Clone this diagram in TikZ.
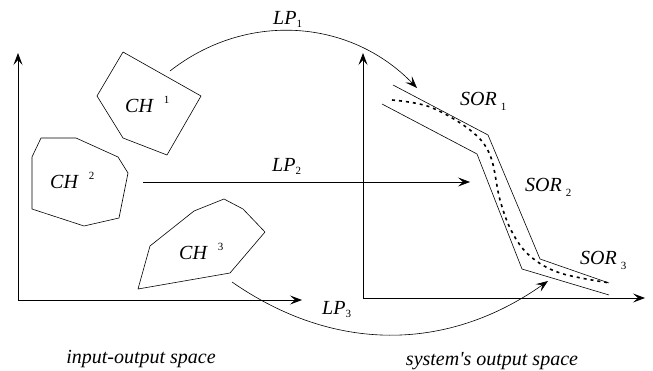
\documentclass[tikz,border=0pt]{standalone}
\usepackage{fontspec}
\setmainfont{Liberation Serif}
\usetikzlibrary{arrows.meta}

\newcommand\hullsup[1]{\hspace{11pt}\raisebox{9pt}{\fontsize{11}{11}\selectfont\upshape #1}}
\newcommand\lpsub[1]{\raisebox{-3pt}{\fontsize{11}{11}\selectfont\upshape #1}}
\newcommand\sorsub[1]{\hspace{4pt}\raisebox{-5pt}{\fontsize{11}{11}\selectfont\upshape #1}}

\begin{document}
\begin{tikzpicture}[
    x=1pt,
    y=-1pt,
    >={Stealth[length=12pt,width=9pt,inset=5pt]},
    axis/.style={
      <->,
      line width=0.9pt,
    },
    hull/.style={
      line width=0.6pt,
      line join=round,
    },
    link/.style={
      ->,
      line width=0.6pt,
    },
    band/.style={
      line width=0.6pt,
    },
    dotband/.style={
      line width=1.6pt,
      dash pattern=on 3pt off 4pt,
    },
    lbl/.style={
      font=\itshape\fontsize{20}{24}\selectfont,
      inner sep=0pt,
      anchor=base west,
    },
  ]

  \useasboundingbox (0,0) rectangle (653,371);

  % Axes
  \coordinate (ytop1) at (18,53);
  \coordinate (xend1) at (302,300);
  \coordinate (ytop2) at (363,53);
  \coordinate (xend2) at (645,298);
  \draw[axis] (ytop1) |- (xend1);
  \draw[axis] (ytop2) |- (xend2);

  % Convex hulls
  \draw[hull] (123,52) -- (201,96) -- (167,155) -- (123,138) -- (97,96) -- cycle;
  \draw[hull] (41,138) -- (76,138) -- (118,157) -- (128,173) -- (119,218)
    -- (84,226) -- (32,209) -- (32,157) -- cycle;
  \draw[hull] (224,199) -- (243,209) -- (265,232) -- (230,273) -- (138,289)
    -- (150,246) -- (194,211) -- cycle;

  \node[lbl] (ch1) at (125,113) {CH\hullsup{1}};
  \node[lbl] (ch2) at (50,189) {CH\hullsup{2}};
  \node[lbl] (ch3) at (179,260) {CH\hullsup{3}};

  % Output regions
  \draw[band] (393,85) -- (488,135) -- (540,259) -- (609,283);
  \draw[band] (382,104) -- (477,154) -- (522,269) -- (609,295);
  \draw[dotband] plot[smooth, tension=0.6] coordinates {(392,100) (430,107)
    (470,130) (490,155) (500,200) (512,232) (530,256) (560,273) (610,283)};

  \node[lbl] (sor1) at (460,106) {SOR\sorsub{1}};
  \node[lbl] (sor2) at (525,192) {SOR\sorsub{2}};
  \node[lbl] (sor3) at (580,265) {SOR\sorsub{3}};

  % Mappings
  \coordinate (lp1s) at (170,71);
  \coordinate (lp1e) at (417,88);
  \coordinate (lp2s) at (143,182);
  \coordinate (lp2e) at (470,182);
  \coordinate (lp3s) at (232,282);
  \coordinate (lp3e) at (548,281);
  \draw[link] (lp1s) to[bend left=42] (lp1e);
  \draw[link] (lp2s) -- (lp2e);
  \draw[link] (lp3s) to[bend right=35] (lp3e);

  \node[lbl] (lp1) at (273,25) {LP\lpsub{1}};
  \node[lbl] (lp2) at (272,172) {LP\lpsub{2}};
  \node[lbl] (lp3) at (322,314) {LP\lpsub{3}};

  % Space captions
  \node[lbl, anchor=base] (inspace) at (141,363) {input-output space};
  \node[lbl, anchor=base] (outspace) at (492,365) {system\textquotesingle s output space};

\end{tikzpicture}
\end{document}
